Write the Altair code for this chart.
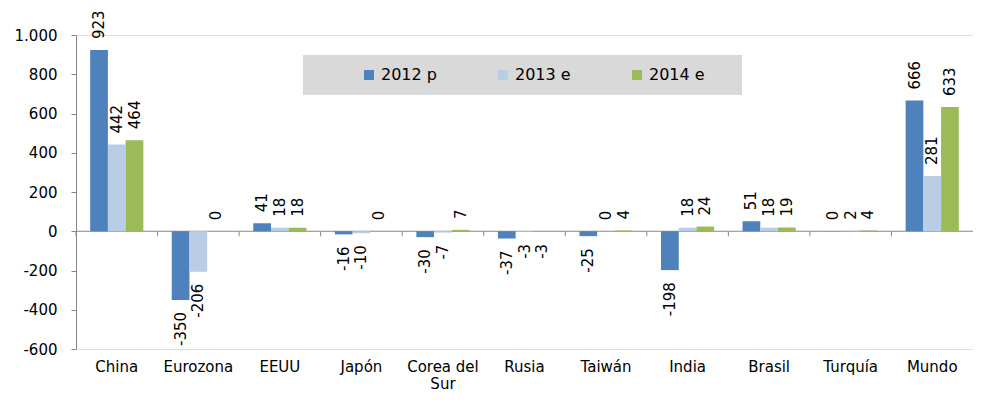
import altair as alt
import pandas as pd

categories = ["China", "Eurozona", "EEUU", "Japón", "Corea del Sur", "Rusia",
              "Taiwán", "India", "Brasil", "Turquía", "Mundo"]
series = ["2012 p", "2013 e", "2014 e"]
v2012 = [923, -350, 41, -16, -30, -37, -25, -198, 51, 0.4, 666]
v2013 = [442, -206, 18, -10, -7, -3, 0, 18, 18, 2, 281]
v2014 = [464, 0, 18, 0, 7, -3, 4, 24, 19, 4, 633]
colors = ["#4F81BD", "#B9CDE5", "#9BBB59"]
y_ticks = [-600, -400, -200, 0, 200, 400, 600, 800, 1000]

rows = []
for i, c in enumerate(categories):
    for s, vals in zip(series, [v2012, v2013, v2014]):
        v = vals[i]
        rows.append({"cat": c, "serie": s, "v": v, "label": str(int(round(v)))})
df = pd.DataFrame(rows)
cats_df = pd.DataFrame({"cat": categories})
one = pd.DataFrame({"a": [0]})

W, H = 897, 314
zero_px = H * 1000 / 1600

xscale = alt.Scale(paddingInner=0, paddingOuter=0)
xoff = alt.XOffset("serie:N", sort=series,
                   scale=alt.Scale(paddingInner=0, paddingOuter=0.8))
yscale = alt.Scale(domain=[-600, 1000], nice=False, zero=False)

x_axis = alt.Axis(title=None, domain=False, ticks=False, labelAngle=0,
                  labelFont="DejaVu Sans", labelFontSize=15, labelColor="#000000",
                  labelPadding=10, labelLineHeight=17, labelOverlap=False,
                  labelExpr="datum.label == 'Corea del Sur' ? ['Corea del', 'Sur'] : datum.label")
y_axis = alt.Axis(title=None, values=y_ticks, grid=False, labelOverlap=False,
                  labelBound=False, labelFlush=False,
                  domainColor="#868686", tickColor="#868686", tickSize=5,
                  labelPadding=14, labelFont="DejaVu Sans", labelFontSize=15,
                  labelColor="#000000",
                  labelExpr="replace(replace(format(datum.value, ','), ',', '.'), '\u2212', '-')")

legend_bg = alt.Chart(one).mark_rect(color="#D9D9D9").encode(
    x=alt.value(227), x2=alt.value(666), y=alt.value(20), y2=alt.value(60))

zero_line = alt.Chart(one).mark_rule(color="#868686", strokeWidth=1).encode(
    y=alt.Y(datum=0, scale=yscale, axis=y_axis), x=alt.value(0), x2=alt.value(W))

ticks = alt.Chart(cats_df).mark_rule(color="#868686", strokeWidth=1).encode(
    x=alt.X("cat:N", sort=categories, scale=xscale, bandPosition=0, axis=x_axis),
    y=alt.Y(datum=0, scale=yscale, axis=y_axis),
    y2=alt.value(zero_px + 5))

bars = alt.Chart(df).mark_bar().encode(
    x=alt.X("cat:N", sort=categories, scale=xscale, axis=x_axis),
    xOffset=xoff,
    y=alt.Y("v:Q", scale=yscale, axis=y_axis),
    color=alt.Color("serie:N", sort=series,
                    scale=alt.Scale(domain=series, range=colors),
                    legend=alt.Legend(title=None, orient="none", legendX=285, legendY=32,
                                      direction="horizontal", symbolType="square",
                                      symbolSize=100, symbolStrokeWidth=0,
                                      labelFont="DejaVu Sans", labelFontSize=16,
                                      labelColor="#000000", labelOffset=4,
                                      columnPadding=58, padding=0)))

pos_labels = alt.Chart(df).transform_filter("datum.v >= 0").mark_text(
    angle=270, align="left", baseline="middle", dx=11,
    font="DejaVu Sans", fontSize=15, color="#000000").encode(
    x=alt.X("cat:N", sort=categories, scale=xscale, axis=x_axis),
    xOffset=xoff,
    y=alt.Y("v:Q", scale=yscale, axis=y_axis),
    text="label:N")

neg_labels = alt.Chart(df).transform_filter("datum.v < 0").mark_text(
    angle=270, align="right", baseline="middle", dx=-12,
    font="DejaVu Sans", fontSize=15, color="#000000").encode(
    x=alt.X("cat:N", sort=categories, scale=xscale, axis=x_axis),
    xOffset=xoff,
    y=alt.Y("v:Q", scale=yscale, axis=y_axis),
    text="label:N")

chart = alt.layer(legend_bg, zero_line, ticks, bars, pos_labels, neg_labels).properties(
    width=W, height=H,
    autosize=alt.AutoSizeParams(type="none"),
    padding={"left": 68, "top": 27, "right": 0, "bottom": 43},
).configure_view(stroke=None).configure(background="white").configure_axisY(
    labelOverlap=False)

chart.save("out.html", embed_options={"renderer": "svg", "actions": False})
